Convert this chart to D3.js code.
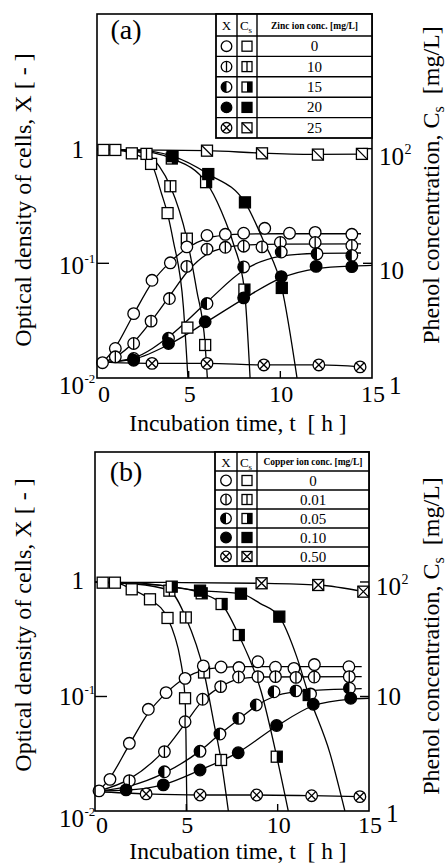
<!DOCTYPE html>
<html><head><meta charset="utf-8">
<script src="https://cdn.jsdelivr.net/npm/d3@7"></script>
<style>body{margin:0;background:#fff}svg{display:block}text{font-family:"Liberation Serif","Times New Roman",serif;fill:#000}</style>
</head><body><svg id="c" width="447" height="866"></svg>
<script>
// ---------- tick labels / categories ----------
const xTickValues = [0, 5, 10, 15];
const leftTickValues = [0.01, 0.1, 1];
const leftTickLabels = [["10", "-2"], ["10", "-1"], ["1", ""]];
const rightTickValues = [1, 10, 100];
const rightTickLabels = [["1", ""], ["10", ""], ["10", "2"]];
const concA = ["0", "10", "15", "20", "25"];
const concB = ["0", "0.01", "0.05", "0.10", "0.50"];
const legendTitleA = "Zinc ion conc. [mg/L]";
const legendTitleB = "Copper ion conc. [mg/L]";

// ---------- panel (a): optical density X [-]  (t [h], X) ----------
const aX0 = [[0.3,0.0136],[1,0.0181],[2,0.0364],[3,0.0711],[4,0.101],[4.9,0.139],[6,0.175],[7,0.179],[8,0.183],[9.15,0.202],[10.5,0.183],[11.9,0.186],[13.9,0.179]];
const aX1 = [[1,0.0153],[2,0.020],[2.95,0.0313],[3.95,0.0493],[4.9,0.094],[6,0.133],[7,0.138],[8,0.141],[9,0.139],[10,0.152],[11.9,0.152],[13.9,0.143]];
const aX2 = [[2,0.0148],[3.9,0.0222],[6,0.0446],[8,0.093],[10.05,0.1255],[12,0.121],[13.9,0.117]];
const aX3 = [[2,0.0143],[3.9,0.020],[5.9,0.0309],[8,0.050],[10.05,0.0765],[11.95,0.094],[13.9,0.0935]];
const aX4 = [[3,0.0134],[6,0.0134],[9.1,0.013],[12.1,0.013],[14.35,0.0125]];
const aX0Line = [[0.3,0.0136],[1,0.0185],[2,0.036],[3,0.068],[4,0.103],[5,0.138],[6,0.165],[7,0.176],[8,0.18],[10,0.181],[14.4,0.181]];
const aX1Line = [[0.3,0.0136],[1,0.0152],[2,0.0205],[3,0.032],[4,0.053],[5,0.087],[6,0.12],[7,0.137],[8,0.144],[10,0.147],[14.4,0.148]];
const aX2Line = [[0.3,0.0136],[2,0.015],[4,0.0235],[6,0.046],[8,0.087],[10,0.115],[12,0.122],[14.4,0.123]];
const aX3Line = [[0.3,0.0136],[2,0.0146],[4,0.0199],[6,0.031],[8,0.049],[10,0.074],[12,0.09],[14,0.095],[15,0.096]];
const aX4Line = [[0,0.0138],[3,0.0134],[6,0.0134],[9.1,0.013],[12.1,0.013],[14.4,0.0125]];
// panel (a): phenol concentration Cs [mg/L]
const aC0 = [[0.35,97.4],[1,97.4],[1.9,91],[2.95,73.6],[3.85,27.4],[4.93,2.75]];
const aC1 = [[2.7,90],[4,47],[4.9,16.4],[5.9,1.94]];
const aC2 = [[4.08,82],[5.95,51],[8.04,5.9]];
const aC3 = [[4.12,86],[6.07,60],[8.07,34],[10.08,6.1]];
const aC4 = [[6,96],[9,91],[12.05,88.7],[14.45,90]];
const aC0Line = [[0,98],[1,97.2],[1.9,91.5],[2.95,74],[3.53,40],[3.85,27],[4.15,16],[4.71,4.2],[4.96,1]];
const aC1Line = [[0,98],[1,97.5],[2,95],[2.7,90],[3.4,70],[4,47],[4.9,16.4],[5.44,5.8],[5.9,1.94],[6.02,1]];
const aC2Line = [[0,98],[2,96.5],[4.08,82],[5.95,51],[6.8,28],[7.44,14.8],[8.04,5.9],[8.35,1]];
const aC3Line = [[0,98],[2,97.5],[4.12,86],[6.07,60],[8.07,34],[9.07,15.8],[10.08,6.1],[10.91,1]];
const aC4Line = [[0,98],[3,97],[6,96],[9,91.5],[12.05,89],[14.45,89.5]];

// ---------- panel (b) ----------
const bX0 = [[0.22,0.015],[0.82,0.0189],[1.88,0.039],[2.92,0.0773],[3.89,0.108],[4.93,0.144],[5.93,0.185],[6.9,0.181],[7.88,0.179],[8.92,0.201],[9.88,0.18],[10.89,0.176],[12.01,0.19],[13.9,0.182]];
const bX1 = [[1.88,0.0184],[3.8,0.033],[4.93,0.0602],[5.89,0.0946],[6.88,0.122],[7.86,0.148],[8.92,0.149],[9.88,0.149],[11,0.147],[12,0.148],[13.92,0.149]];
const bX2 = [[3.8,0.022],[5.75,0.0332],[6.84,0.047],[7.87,0.0644],[8.83,0.0843],[9.8,0.11],[11,0.112],[11.8,0.105],[13.93,0.118]];
const bX3 = [[1.7,0.0153],[3.74,0.0169],[5.75,0.0228],[7.84,0.0323],[9.94,0.0558],[11.95,0.0855],[14,0.0964]];
const bX4 = [[2.8,0.0141],[5.75,0.0138],[8.85,0.0138],[11.86,0.0136],[14.5,0.01335]];
const bX0Line = [[0.22,0.015],[0.82,0.0195],[1.88,0.038],[2.92,0.072],[3.89,0.107],[4.93,0.145],[5.93,0.17],[6.9,0.179],[8,0.182],[14.6,0.182]];
const bX1Line = [[0.22,0.015],[1.88,0.019],[3.8,0.034],[4.93,0.058],[5.89,0.092],[6.88,0.122],[7.86,0.142],[9,0.148],[14.6,0.149]];
const bX2Line = [[0.22,0.015],[1.88,0.0165],[3.8,0.0215],[5.75,0.0335],[6.84,0.047],[7.87,0.063],[8.83,0.083],[9.8,0.1],[11,0.11],[12,0.113],[14.6,0.117]];
const bX3Line = [[0.22,0.015],[1.7,0.0152],[3.74,0.017],[5.75,0.0228],[7.84,0.0325],[9.94,0.055],[11.95,0.083],[14,0.095],[15,0.0965]];
const bX4Line = [[0,0.0148],[2.8,0.0141],[5.75,0.0138],[8.85,0.0138],[11.86,0.0136],[14.5,0.01335]];
const bC0 = [[0.42,98.6],[1.09,98.6],[2.01,86.3],[3.01,70.6],[3.97,48.5],[4.93,9.65]];
const bC1 = [[4.07,84],[4.97,49],[5.97,16.2],[6.9,2.79]];
const bC2 = [[4.2,91],[5.84,79.6],[6.93,64.2],[7.87,34.4],[9.95,2.98]];
const bC3 = [[5.75,84],[7.99,79],[10.09,49.8],[11.7,10.3]];
const bC4 = [[9.12,97.4],[12.22,94.1],[14.69,82.3]];
const bC0Line = [[0,99],[1.09,98.6],[2.01,86.3],[3.01,70.6],[3.97,48.5],[4.38,33],[4.65,22],[4.93,9.65],[4.98,4.4],[5.03,1]];
const bC1Line = [[0,99],[2.2,96],[4.07,84],[4.97,49],[5.97,16.2],[6.48,6.2],[6.9,2.79],[7.3,1]];
const bC2Line = [[0,99],[2,97],[4.2,91],[5.84,79.6],[6.93,64.2],[7.87,34.4],[9.1,11],[9.95,2.98],[10.58,1]];
const bC3Line = [[0,99],[2,98.5],[5.75,84],[7.99,79],[9.03,65],[10.09,49.8],[11.04,22.3],[11.7,10.3],[12.86,3.2],[13.68,1]];
const bC4Line = [[0,99.5],[4,99],[9.12,97.4],[12.22,94.1],[14.69,82.3]];

// ---------- drawing ----------
const svg = d3.select("#c");
const SW = 1.3;

function circleMark(g, x, y, type, r) {
  const s = g.append("g");
  s.append("circle").attr("cx", x).attr("cy", y).attr("r", r)
    .attr("fill", type === 3 ? "#000" : "#fff").attr("stroke", "#000").attr("stroke-width", SW);
  if (type === 1) s.append("line").attr("x1", x).attr("x2", x).attr("y1", y - r).attr("y2", y + r).attr("stroke", "#000").attr("stroke-width", SW);
  if (type === 2) s.append("path").attr("d", `M${x},${y - r}A${r},${r} 0 0 0 ${x},${y + r}Z`).attr("fill", "#000");
  if (type === 4) {
    const d = r * 0.707;
    s.append("path").attr("d", `M${x - d},${y - d}L${x + d},${y + d}M${x + d},${y - d}L${x - d},${y + d}`).attr("stroke", "#000").attr("stroke-width", SW);
  }
}
function squareMark(g, x, y, type, s, cross) {
  const h = s / 2, q = g.append("g");
  q.append("rect").attr("x", x - h).attr("y", y - h).attr("width", s).attr("height", s)
    .attr("fill", type === 3 ? "#000" : "#fff").attr("stroke", "#000").attr("stroke-width", SW);
  if (type === 1) q.append("line").attr("x1", x).attr("x2", x).attr("y1", y - h).attr("y2", y + h).attr("stroke", "#000").attr("stroke-width", SW);
  if (type === 2) q.append("rect").attr("x", x).attr("y", y - h).attr("width", h).attr("height", s).attr("fill", "#000");
  if (type === 4) {
    let d = `M${x - h},${y - h}L${x + h},${y + h}`;
    if (cross) d += `M${x + h},${y - h}L${x - h},${y + h}`;
    q.append("path").attr("d", d).attr("stroke", "#000").attr("stroke-width", SW);
  }
}

function drawPanel(cfg, xMarks, xLines, cMarks, cLines, conc, legendTitle) {
  const g = svg.append("g");
  const {l, r, t, b} = cfg;
  const xs = d3.scaleLinear().domain([0, 15]).range([l, r]);
  const ys = d3.scaleLog().domain([0.01, Math.pow(10, cfg.topExp)]).range([b, t]);
  const ysR = d3.scaleLog().domain([1, 100 * Math.pow(10, cfg.topExp)]).range([b, t]);

  const clipId = "clip" + cfg.name;
  svg.append("clipPath").attr("id", clipId).append("rect").attr("x", l).attr("y", t).attr("width", r - l).attr("height", b - t);

  const lineX = d3.line().x(d => xs(d[0])).y(d => ys(d[1])).curve(d3.curveMonotoneX);
  const lineC = d3.line().x(d => xs(d[0])).y(d => ysR(d[1])).curve(d3.curveMonotoneX);
  const lg = g.append("g").attr("clip-path", `url(#${clipId})`);
  xLines.forEach(L => lg.append("path").attr("d", lineX(L)).attr("fill", "none").attr("stroke", "#000").attr("stroke-width", SW));
  cLines.forEach(L => lg.append("path").attr("d", lineC(L)).attr("fill", "none").attr("stroke", "#000").attr("stroke-width", SW));

  // ticks
  const tk = g.append("g").attr("stroke", "#000").attr("stroke-width", 1.4);
  [0.1, 1].forEach(v => {
    tk.append("line").attr("x1", l).attr("x2", l + 12).attr("y1", ys(v)).attr("y2", ys(v));
    tk.append("line").attr("x1", r).attr("x2", r - 9).attr("y1", ys(v)).attr("y2", ys(v));
  });
  [5, 10].forEach(v => tk.append("line").attr("x1", xs(v)).attr("x2", xs(v)).attr("y1", b).attr("y2", b - 7));

  // markers
  cMarks.forEach((M, i) => M.forEach(d => squareMark(g, xs(d[0]), ysR(d[1]), i, 11, cfg.cross)));
  xMarks.forEach((M, i) => M.forEach(d => circleMark(g, xs(d[0]), ys(d[1]), i, 5.8)));

  // frame
  g.append("rect").attr("x", l).attr("y", t).attr("width", r - l).attr("height", b - t)
    .attr("fill", "none").attr("stroke", "#000").attr("stroke-width", 1.6);

  // legend table
  const T = cfg.table;
  const tg = g.append("g");
  tg.append("rect").attr("x", T.x0).attr("y", t).attr("width", r - T.x0).attr("height", T.bottom - t)
    .attr("fill", "#fff").attr("stroke", "#000").attr("stroke-width", 1.8);
  const rowH = (T.bottom - T.head) / conc.length;
  [T.x1, T.x2].forEach(x => tg.append("line").attr("x1", x).attr("x2", x).attr("y1", t).attr("y2", T.bottom).attr("stroke", "#000").attr("stroke-width", 1.4));
  for (let i = 0; i < conc.length; i++) {
    const y = T.head + i * rowH;
    tg.append("line").attr("x1", T.x0).attr("x2", r).attr("y1", y).attr("y2", y).attr("stroke", "#000").attr("stroke-width", 1.4);
  }
  const cxX = (T.x0 + T.x1) / 2, cxC = (T.x1 + T.x2) / 2, cxV = (T.x2 + r) / 2;
  const hy = (t + T.head) / 2;
  tg.append("text").attr("x", cxX).attr("y", hy + 5).attr("text-anchor", "middle").attr("font-size", 13).text("X");
  const ct = tg.append("text").attr("x", cxC - 1).attr("y", hy + 5).attr("text-anchor", "middle").attr("font-size", 13);
  ct.append("tspan").text("C");
  ct.append("tspan").attr("font-size", 9).attr("dy", 3).text("s");
  tg.append("text").attr("x", cxV).attr("y", hy + 3.5).attr("text-anchor", "middle").attr("font-size", 9.5)
    .attr("font-weight", "bold").text(legendTitle);
  conc.forEach((c, i) => {
    const cy = T.head + (i + 0.5) * rowH;
    circleMark(tg, cxX, cy, i, 5.3);
    squareMark(tg, cxC, cy, i, 10, cfg.cross);
    tg.append("text").attr("x", cxV).attr("y", cy + 5).attr("text-anchor", "middle").attr("font-size", 15).text(c);
  });

  // panel label
  g.append("text").attr("x", 126).attr("y", cfg.labelY).attr("text-anchor", "middle").attr("font-size", 28).text(cfg.label);

  // tick labels
  leftTickValues.forEach((v, i) => {
    const y = ys(v) + cfg.leftDy[i];
    g.append("text").attr("x", 84).attr("y", y).attr("text-anchor", "end").attr("font-size", 25).text(leftTickLabels[i][0]);
    if (leftTickLabels[i][1]) g.append("text").attr("x", 84.5).attr("y", y - 11).attr("font-size", 13).text(leftTickLabels[i][1]);
  });
  rightTickValues.forEach((v, i) => {
    const y = ysR(v) + cfg.rightDy[i];
    const x0 = r + (i === 0 ? 17 : 7);
    g.append("text").attr("x", x0).attr("y", y).attr("font-size", 25).text(rightTickLabels[i][0]);
    if (rightTickLabels[i][1]) g.append("text").attr("x", x0 + 25.5).attr("y", y - 11).attr("font-size", 14).text(rightTickLabels[i][1]);
  });
  xTickValues.forEach(v => {
    g.append("text").attr("x", xs(v) + (v === 0 ? 7 : 1)).attr("y", b + cfg.xTickDy).attr("text-anchor", "middle").attr("font-size", 24).text(v);
  });

  // axis titles
  g.append("text").attr("x", 238).attr("y", cfg.xTitleY).attr("text-anchor", "middle").attr("font-size", 23.5)
    .style("white-space", "pre").text("Incubation time, t  [ h ]");
  g.append("text").attr("transform", `translate(31,${cfg.leftTitleY}) rotate(-90)`).attr("text-anchor", "middle")
    .attr("font-size", 24).text("Optical density of cells, X [ - ]");
  const rt = g.append("text").attr("transform", `translate(439,${cfg.rightTitleY}) rotate(-90)`).attr("text-anchor", "middle").attr("font-size", 24);
  rt.append("tspan").text("Phenol concentration, C");
  rt.append("tspan").attr("font-size", 16).attr("dy", 5).text("s");
  rt.append("tspan").attr("dy", -5).style("white-space", "pre").text("  [mg/L]");
}

drawPanel({name: "a", l: 97, r: 372, t: 14, b: 378, topExp: 1.174, cross: false,
  table: {x0: 216, x1: 237, x2: 257, head: 36, bottom: 138},
  label: "(a)", labelY: 39, leftDy: [16, 11, 9], rightDy: [16, 16, 16], xTickDy: 24,
  xTitleY: 431, leftTitleY: 200, rightTitleY: 185},
  [aX0, aX1, aX2, aX3, aX4], [aX0Line, aX1Line, aX2Line, aX3Line, aX4Line],
  [aC0, aC1, aC2, aC3, aC4], [aC0Line, aC1Line, aC2Line, aC3Line, aC4Line], concA, legendTitleA);

drawPanel({name: "b", l: 95, r: 369, t: 452, b: 811, topExp: 1.135, cross: true,
  table: {x0: 215, x1: 237, x2: 257, head: 471, bottom: 566},
  label: "(b)", labelY: 481, leftDy: [16, 9, 7], rightDy: [11, 9, 13], xTickDy: 22,
  xTitleY: 859, leftTitleY: 625, rightTitleY: 636},
  [bX0, bX1, bX2, bX3, bX4], [bX0Line, bX1Line, bX2Line, bX3Line, bX4Line],
  [bC0, bC1, bC2, bC3, bC4], [bC0Line, bC1Line, bC2Line, bC3Line, bC4Line], concB, legendTitleB);
</script></body></html>
